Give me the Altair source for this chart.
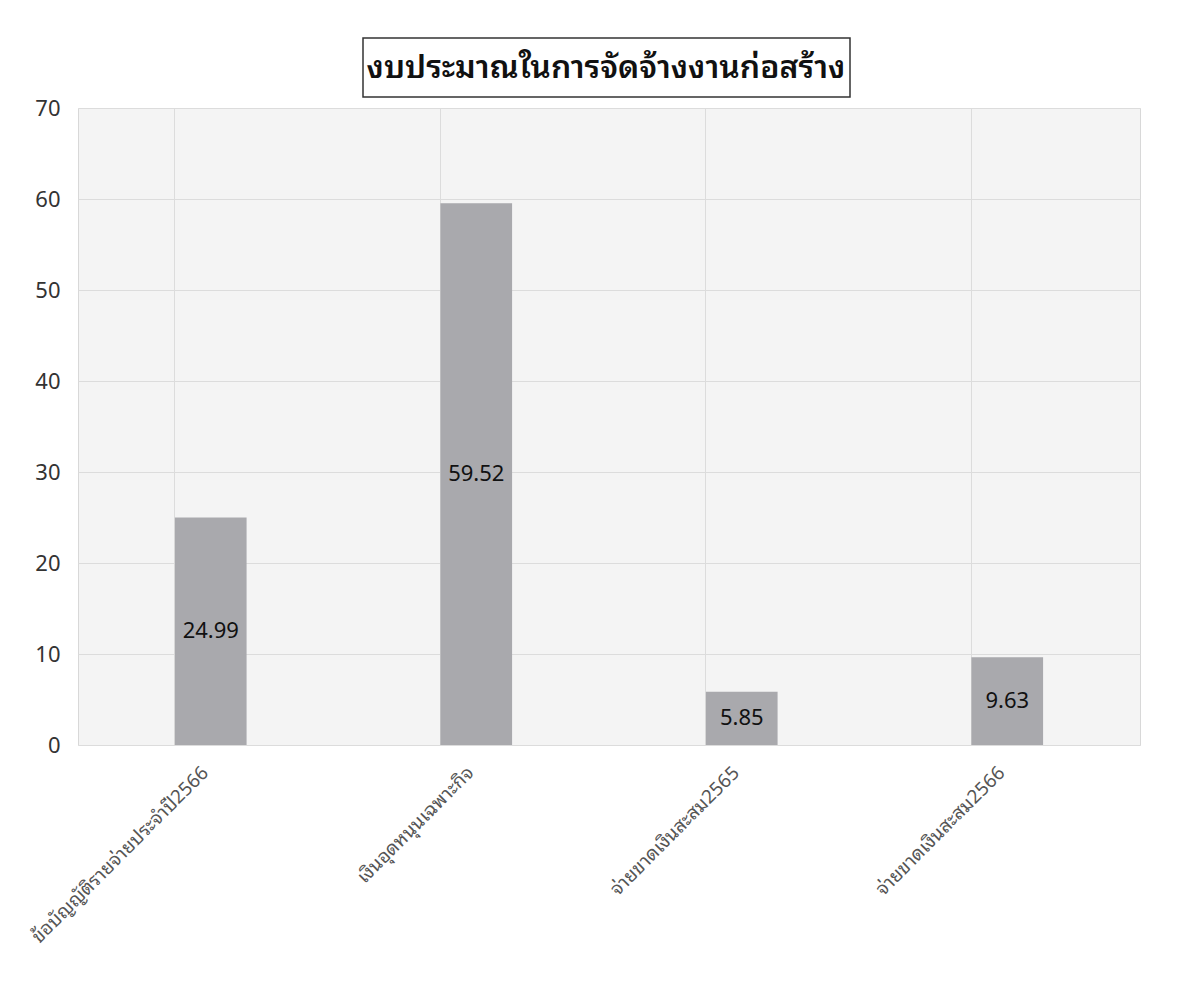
import altair as alt
import pandas as pd

categories = ["ข้อบัญญัติรายจ่ายประจำปี2566", "เงินอุดหนุนเฉพาะกิจ", "จ่ายขาดเงินสะสม2565", "จ่ายขาดเงินสะสม2566"]
values = [24.99, 59.52, 5.85, 9.63]
y_ticks = [0, 10, 20, 30, 40, 50, 60, 70]
title_text = "งบประมาณในการจัดจ้างงานก่อสร้าง"

df = pd.DataFrame({"cat": categories, "val": values})
df["label"] = df["val"].map(lambda v: f"{v:.2f}")

FONT = "Noto Sans Thai Looped, Tahoma, Noto Sans Thai, Noto Sans, sans-serif"

x_enc = alt.X("cat:N", sort=categories, title=None,
              scale=alt.Scale(paddingInner=0.73, paddingOuter=0.365),
              axis=alt.Axis(labelAngle=-45, labelAlign="right", labelBaseline="top",
                            labelFontSize=19, labelColor="#555555", labelFont=FONT,
                            labelPadding=18, labelOffset=-12, ticks=False, domain=False, grid=True,
                            bandPosition=0, gridColor="#dcdcdc", labelLimit=400))
y_enc = alt.Y("val:Q", title=None,
              scale=alt.Scale(domain=[0, 70], nice=False),
              axis=alt.Axis(values=y_ticks, labelFontSize=22, labelColor="#333333",
                            labelFont=FONT, labelPadding=18, ticks=False, domain=False,
                            gridColor="#dcdcdc"))

bars = alt.Chart(df).mark_bar(color="#a9a9ad").encode(x=x_enc, y=y_enc)

labels = alt.Chart(df).transform_calculate(mid="datum.val / 2").mark_text(
    fontSize=22, color="#111111", font=FONT
).encode(x=alt.X("cat:N", sort=categories), y=alt.Y("mid:Q"), text="label:N")

first = alt.datum.cat == categories[0]

box = alt.Chart(df).transform_filter(first).mark_rect(
    fill="#ffffff", stroke="#333333", strokeWidth=1.5
).encode(x=alt.value(285), x2=alt.value(772), y=alt.value(-70), y2=alt.value(-11))

title = alt.Chart(df).transform_filter(first).mark_text(
    text=title_text, fontSize=32, font=FONT, color="#111111", fontWeight=600,
    baseline="middle", align="center"
).encode(x=alt.value(528), y=alt.value(-40))

chart = alt.layer(bars, labels, box, title).properties(
    width=1062, height=637,
    autosize=alt.AutoSizeParams(type="none"),
    padding={"left": 70, "top": 100, "right": 30, "bottom": 230},
).configure_view(fill="#f4f4f4", stroke="#d8d8d8")

chart.save("out.html", embed_options={"renderer": "svg", "actions": False})
